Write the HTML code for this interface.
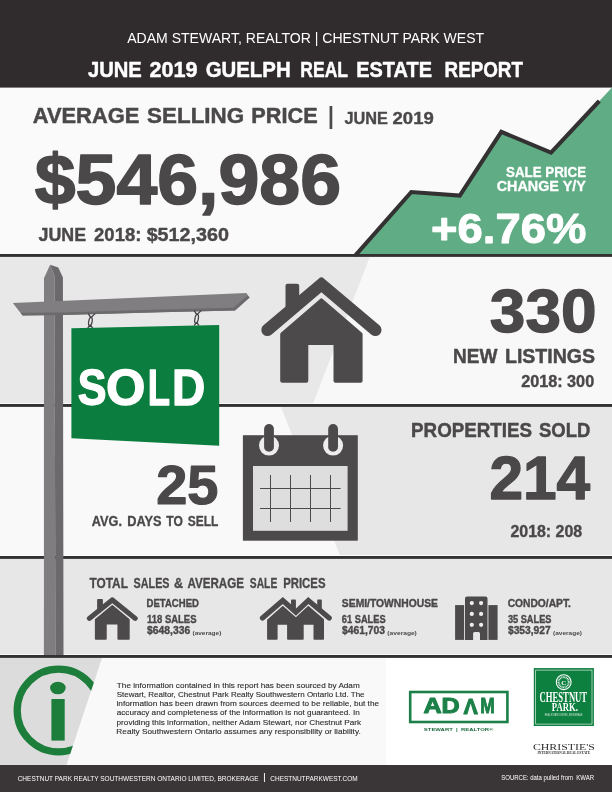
<!DOCTYPE html>
<html lang="en"><head><meta charset="utf-8"><title>June 2019 Guelph Real Estate Report</title>
<style>html,body{margin:0;padding:0;background:#fff}svg{display:block}text{white-space:pre}</style></head>
<body><svg width="612" height="792" viewBox="0 0 612 792">
<rect x="0" y="0" width="612" height="792" fill="#fafafa"/>
<rect x="0" y="0" width="612" height="87.6" fill="#302c2d"/>
<rect x="0" y="257" width="612" height="147" fill="#e8e8e8"/>
<polygon points="369.8,257 612,257 612,404 312.8,404" fill="#f8f8f8"/>
<rect x="0" y="407" width="612" height="149" fill="#f9f9f9"/>
<polygon points="281,407 612,407 612,556 340.2,556" fill="#e7e7e7"/>
<rect x="0" y="559" width="612" height="96" fill="#e7e7e7"/>
<rect x="0" y="658" width="612" height="107" fill="#f9f9f9"/>
<rect x="386" y="658" width="226" height="107" fill="#ffffff"/>
<polygon points="0,658 102,658 66.5,765 0,765" fill="#dcdcdc"/>
<rect x="0" y="765" width="612" height="27" fill="#3a3637"/>
<polygon points="356.5,255 411.3,192 459.8,195.6 501.3,131.8 551,152.6 599.3,101 612,87.5 612,255" fill="#60ad85"/>
<polyline points="355.2,255.6 411.3,192 459.8,195.6 501.3,131.8 551,152.6 599.3,101" fill="none" stroke="#343132" stroke-width="4.1" stroke-linejoin="miter"/>
<rect x="0" y="254.0" width="612" height="2.9" fill="#343132"/>
<rect x="0" y="403" width="612" height="1" fill="#ffffff" opacity="0.75"/>
<rect x="0" y="404.0" width="612" height="2.9" fill="#343132"/>
<rect x="0" y="555" width="612" height="1" fill="#ffffff" opacity="0.75"/>
<rect x="0" y="556.0" width="612" height="2.9" fill="#343132"/>
<rect x="0" y="654" width="612" height="1" fill="#ffffff" opacity="0.75"/>
<rect x="0" y="655.0" width="612" height="2.9" fill="#343132"/>
<text x="127.17" y="42.50" font-family="'Liberation Sans', sans-serif" font-size="14.90" font-weight="normal" fill="#ffffff" textLength="356.96" lengthAdjust="spacingAndGlyphs">ADAM STEWART, REALTOR | CHESTNUT PARK WEST</text>
<text y="76.66" font-family="'Liberation Sans', sans-serif" font-size="22.00" font-weight="bold" fill="#ffffff" stroke="#ffffff" stroke-width="0.48" stroke-linejoin="round"><tspan x="87.94" textLength="53.85" lengthAdjust="spacingAndGlyphs">JUNE</tspan> <tspan x="149.51" textLength="48.04" lengthAdjust="spacingAndGlyphs">2019</tspan> <tspan x="205.66" textLength="84.97" lengthAdjust="spacingAndGlyphs">GUELPH</tspan> <tspan x="300.34" textLength="47.44" lengthAdjust="spacingAndGlyphs">REAL</tspan> <tspan x="356.22" textLength="75.82" lengthAdjust="spacingAndGlyphs">ESTATE</tspan> <tspan x="444.60" textLength="78.35" lengthAdjust="spacingAndGlyphs">REPORT</tspan></text>
<text y="123.05" font-family="'Liberation Sans', sans-serif" font-size="22.50" font-weight="bold" fill="#4b484a" stroke="#4b484a" stroke-width="0.49" stroke-linejoin="round"><tspan x="32.72" textLength="106.64" lengthAdjust="spacingAndGlyphs">AVERAGE</tspan> <tspan x="147.12" textLength="97.01" lengthAdjust="spacingAndGlyphs">SELLING</tspan> <tspan x="251.32" textLength="66.29" lengthAdjust="spacingAndGlyphs">PRICE</tspan></text>
<text x="328.01" y="123.60" font-family="'Liberation Sans', sans-serif" font-size="24.30" font-weight="bold" fill="#4b484a" textLength="5.86" lengthAdjust="spacingAndGlyphs">|</text>
<text y="123.71" font-family="'Liberation Sans', sans-serif" font-size="16.90" font-weight="bold" fill="#4b484a" stroke="#4b484a" stroke-width="0.37" stroke-linejoin="round"><tspan x="344.44" textLength="43.50" lengthAdjust="spacingAndGlyphs">JUNE</tspan> <tspan x="392.56" textLength="41.19" lengthAdjust="spacingAndGlyphs">2019</tspan></text>
<text x="34.81" y="204.24" font-family="'Liberation Sans', sans-serif" font-size="69.50" font-weight="bold" fill="#4b484a" stroke="#4b484a" stroke-width="1.53" stroke-linejoin="round" textLength="306.19" lengthAdjust="spacingAndGlyphs">$546,986</text>
<text y="240.79" font-family="'Liberation Sans', sans-serif" font-size="19.20" font-weight="bold" fill="#4b484a" stroke="#4b484a" stroke-width="0.42" stroke-linejoin="round"><tspan x="38.54" textLength="47.53" lengthAdjust="spacingAndGlyphs">JUNE</tspan> <tspan x="94.08" textLength="47.27" lengthAdjust="spacingAndGlyphs">2018:</tspan> <tspan x="146.65" textLength="82.32" lengthAdjust="spacingAndGlyphs">$512,360</tspan></text>
<text x="506.09" y="176.84" font-family="'Liberation Sans', sans-serif" font-size="15.00" font-weight="bold" fill="#ffffff" stroke="#ffffff" stroke-width="0.33" stroke-linejoin="round" textLength="79.96" lengthAdjust="spacingAndGlyphs">SALE PRICE</text>
<text x="496.78" y="190.84" font-family="'Liberation Sans', sans-serif" font-size="15.00" font-weight="bold" fill="#ffffff" stroke="#ffffff" stroke-width="0.33" stroke-linejoin="round" textLength="88.99" lengthAdjust="spacingAndGlyphs">CHANGE Y/Y</text>
<text x="431.07" y="243.42" font-family="'Liberation Sans', sans-serif" font-size="43.30" font-weight="bold" fill="#ffffff" stroke="#ffffff" stroke-width="0.95" stroke-linejoin="round" textLength="155.25" lengthAdjust="spacingAndGlyphs">+6.76%</text>
<polygon points="44,278.3 50.1,264.8 54.6,276 55.4,655 43.9,655" fill="#7f7d7f"/>
<polygon points="50.1,264.8 58.3,267.4 62.9,277.6 63.5,655 55.4,655 54.6,276" fill="#6b696b"/>
<polygon points="12.8,303.1 246.3,293 249.6,297.4 235,310.4 160,312.2 63,315 22.6,315.5" fill="#807e80"/>
<polygon points="22.6,315.5 63,315 160,312.2 235,310.4 249.6,297.4 247.4,295.6 233.6,307.8 160,309.6 63,312.4 20.4,312.8" fill="#6c6a6c"/>
<g fill="none" stroke="#454345" stroke-width="1.3" stroke-linecap="round" stroke-linejoin="round"><polyline points="88.4,313.9 90.8,317.7 94.8,313.9"/><ellipse cx="90.4" cy="321.6" rx="1.7" ry="4.3" transform="rotate(10 90.4 321.6)"/><polyline points="88.0,327.6 90.2,325.0 92.4,327.6"/></g>
<g fill="none" stroke="#454345" stroke-width="1.3" stroke-linecap="round" stroke-linejoin="round"><polyline points="194.4,310.9 196.8,314.7 200.8,310.9"/><ellipse cx="196.6" cy="318.9" rx="1.7" ry="4.5" transform="rotate(10 196.6 318.9)"/><polyline points="194.4,325.1 196.6,322.5 198.8,325.1"/></g>
<polygon points="71.4,328.2 219.2,324.9 219.2,445.8 71.4,438.3" fill="#0b7d3e"/>
<text y="405.15" font-family="'Liberation Sans', sans-serif" font-size="50.20" font-weight="bold" fill="#ffffff" stroke="#ffffff" stroke-width="1.30" stroke-linejoin="round"><tspan x="77.74" textLength="28.79" lengthAdjust="spacingAndGlyphs">S</tspan><tspan x="105.97" textLength="39.40" lengthAdjust="spacingAndGlyphs">O</tspan><tspan x="147.64" textLength="22.30" lengthAdjust="spacingAndGlyphs">L</tspan><tspan x="171.91" textLength="33.23" lengthAdjust="spacingAndGlyphs">D</tspan></text>
<g fill="#4d4a4c" stroke="#4d4a4c" stroke-width="4.00" stroke-linejoin="round"><polygon points="287.50,312.00 287.50,285.80 297.20,285.80 297.20,303.00"/><polygon points="321.40,300.40 360.60,334.30 360.60,380.80 335.50,380.80 335.50,343.00 306.30,343.00 306.30,380.80 282.20,380.80 282.20,334.30"/></g><path fill="#4d4a4c" d="M263.46,325.34 L318.96,278.38 Q321.40,276.31 323.84,278.38 L379.34,325.34 A6.10,6.10 0 0 1 371.46,334.66 L321.40,292.29 L271.34,334.66 A6.10,6.10 0 0 1 263.46,325.34 Z"/>
<text x="489.86" y="331.94" font-family="'Liberation Sans', sans-serif" font-size="60.40" font-weight="bold" fill="#4b484a" stroke="#4b484a" stroke-width="1.33" stroke-linejoin="round" textLength="106.66" lengthAdjust="spacingAndGlyphs">330</text>
<text y="363.47" font-family="'Liberation Sans', sans-serif" font-size="20.80" font-weight="bold" fill="#4b484a" stroke="#4b484a" stroke-width="0.46" stroke-linejoin="round"><tspan x="452.97" textLength="44.42" lengthAdjust="spacingAndGlyphs">NEW</tspan> <tspan x="504.94" textLength="90.20" lengthAdjust="spacingAndGlyphs">LISTINGS</tspan></text>
<text x="521.13" y="387.32" font-family="'Liberation Sans', sans-serif" font-size="16.20" font-weight="bold" fill="#4b484a" stroke="#4b484a" stroke-width="0.36" stroke-linejoin="round" textLength="73.04" lengthAdjust="spacingAndGlyphs">2018: 300</text>
<text x="156.20" y="504.30" font-family="'Liberation Sans', sans-serif" font-size="54.80" font-weight="bold" fill="#4b484a" stroke="#4b484a" stroke-width="1.21" stroke-linejoin="round" textLength="62.22" lengthAdjust="spacingAndGlyphs">25</text>
<text y="525.55" font-family="'Liberation Sans', sans-serif" font-size="14.00" font-weight="bold" fill="#4b484a" stroke="#4b484a" stroke-width="0.31" stroke-linejoin="round"><tspan x="91.85" textLength="30.12" lengthAdjust="spacingAndGlyphs">AVG.</tspan> <tspan x="127.31" textLength="34.28" lengthAdjust="spacingAndGlyphs">DAYS</tspan> <tspan x="166.27" textLength="16.58" lengthAdjust="spacingAndGlyphs">TO</tspan> <tspan x="187.82" textLength="30.63" lengthAdjust="spacingAndGlyphs">SELL</tspan></text>
<rect x="242.9" y="435.2" width="114.9" height="105.5" fill="#4d4a4c"/>
<rect x="253" y="466" width="94.6" height="64.8" fill="#dedede"/>
<circle cx="269.0" cy="445.6" r="10" fill="#ededed"/>
<rect x="264.1" y="424" width="9.8" height="27.8" rx="4.9" fill="#4d4a4c"/>
<circle cx="333.1" cy="445.6" r="10" fill="#ededed"/>
<rect x="328.2" y="424" width="9.8" height="27.8" rx="4.9" fill="#4d4a4c"/>
<rect x="270.00" y="475" width="1" height="47" fill="#4d4a4c"/>
<rect x="290.00" y="475" width="1" height="47" fill="#4d4a4c"/>
<rect x="310.00" y="475" width="1" height="47" fill="#4d4a4c"/>
<rect x="330.00" y="475" width="1" height="47" fill="#4d4a4c"/>
<rect x="260" y="488.00" width="80.6" height="1" fill="#4d4a4c"/>
<rect x="260" y="508.00" width="80.6" height="1" fill="#4d4a4c"/>
<text y="436.97" font-family="'Liberation Sans', sans-serif" font-size="20.60" font-weight="bold" fill="#4b484a" stroke="#4b484a" stroke-width="0.45" stroke-linejoin="round"><tspan x="411.09" textLength="121.02" lengthAdjust="spacingAndGlyphs">PROPERTIES</tspan> <tspan x="538.91" textLength="51.42" lengthAdjust="spacingAndGlyphs">SOLD</tspan></text>
<text x="489.42" y="498.73" font-family="'Liberation Sans', sans-serif" font-size="60.80" font-weight="bold" fill="#4b484a" stroke="#4b484a" stroke-width="1.34" stroke-linejoin="round" textLength="100.75" lengthAdjust="spacingAndGlyphs">214</text>
<text x="510.44" y="537.02" font-family="'Liberation Sans', sans-serif" font-size="16.20" font-weight="bold" fill="#4b484a" stroke="#4b484a" stroke-width="0.36" stroke-linejoin="round" textLength="71.76" lengthAdjust="spacingAndGlyphs">2018: 208</text>
<text y="587.54" font-family="'Liberation Sans', sans-serif" font-size="14.20" font-weight="bold" fill="#4b484a" stroke="#4b484a" stroke-width="0.31" stroke-linejoin="round"><tspan x="89.53" textLength="38.17" lengthAdjust="spacingAndGlyphs">TOTAL</tspan> <tspan x="133.60" textLength="35.91" lengthAdjust="spacingAndGlyphs">SALES</tspan> <tspan x="174.11" textLength="9.12" lengthAdjust="spacingAndGlyphs">&amp;</tspan> <tspan x="187.38" textLength="56.67" lengthAdjust="spacingAndGlyphs">AVERAGE</tspan> <tspan x="249.87" textLength="27.38" lengthAdjust="spacingAndGlyphs">SALE</tspan> <tspan x="283.16" textLength="42.33" lengthAdjust="spacingAndGlyphs">PRICES</tspan></text>
<g fill="#4d4a4c" stroke="#4d4a4c" stroke-width="1.66" stroke-linejoin="round"><polygon points="97.96,611.18 97.96,599.76 102.06,599.76 102.06,607.53"/><polygon points="112.30,605.83 128.88,619.56 128.88,639.04 118.26,639.04 118.26,623.74 105.91,623.74 105.91,639.04 95.72,639.04 95.72,619.56"/></g><path fill="#4d4a4c" d="M87.79,616.58 L111.27,597.56 Q112.30,596.73 113.33,597.56 L136.81,616.58 A2.58,2.47 0 0 1 133.48,620.36 L112.30,603.20 L91.12,620.36 A2.58,2.47 0 0 1 87.79,616.58 Z"/>
<text x="146.55" y="606.82" font-family="'Liberation Sans', sans-serif" font-size="10.15" font-weight="bold" fill="#4b484a" stroke="#4b484a" stroke-width="0.37" stroke-linejoin="round" textLength="52.41" lengthAdjust="spacingAndGlyphs">DETACHED</text>
<text x="147.00" y="622.82" font-family="'Liberation Sans', sans-serif" font-size="10.15" font-weight="bold" fill="#4b484a" stroke="#4b484a" stroke-width="0.37" stroke-linejoin="round" textLength="49.44" lengthAdjust="spacingAndGlyphs">118 SALES</text>
<text x="147.05" y="633.62" font-family="'Liberation Sans', sans-serif" font-size="10.15" font-weight="bold" fill="#4b484a" stroke="#4b484a" stroke-width="0.37" stroke-linejoin="round" textLength="43.13" lengthAdjust="spacingAndGlyphs">$648,336</text>
<text x="192.48" y="634.70" font-family="'Liberation Sans', sans-serif" font-size="5.80" font-weight="bold" fill="#4b484a" textLength="28.83" lengthAdjust="spacingAndGlyphs">(average)</text>
<text x="341.89" y="607.02" font-family="'Liberation Sans', sans-serif" font-size="10.15" font-weight="bold" fill="#4b484a" stroke="#4b484a" stroke-width="0.37" stroke-linejoin="round" textLength="96.03" lengthAdjust="spacingAndGlyphs">SEMI/TOWNHOUSE</text>
<text x="341.85" y="623.02" font-family="'Liberation Sans', sans-serif" font-size="10.15" font-weight="bold" fill="#4b484a" stroke="#4b484a" stroke-width="0.37" stroke-linejoin="round" textLength="43.73" lengthAdjust="spacingAndGlyphs">61 SALES</text>
<text x="342.05" y="634.02" font-family="'Liberation Sans', sans-serif" font-size="10.15" font-weight="bold" fill="#4b484a" stroke="#4b484a" stroke-width="0.37" stroke-linejoin="round" textLength="42.93" lengthAdjust="spacingAndGlyphs">$461,703</text>
<text x="387.38" y="634.90" font-family="'Liberation Sans', sans-serif" font-size="5.80" font-weight="bold" fill="#4b484a" textLength="29.45" lengthAdjust="spacingAndGlyphs">(average)</text>
<text x="507.66" y="607.12" font-family="'Liberation Sans', sans-serif" font-size="10.15" font-weight="bold" fill="#4b484a" stroke="#4b484a" stroke-width="0.37" stroke-linejoin="round" textLength="63.26" lengthAdjust="spacingAndGlyphs">CONDO/APT.</text>
<text x="507.88" y="622.82" font-family="'Liberation Sans', sans-serif" font-size="10.15" font-weight="bold" fill="#4b484a" stroke="#4b484a" stroke-width="0.37" stroke-linejoin="round" textLength="43.60" lengthAdjust="spacingAndGlyphs">35 SALES</text>
<text x="507.95" y="633.82" font-family="'Liberation Sans', sans-serif" font-size="10.15" font-weight="bold" fill="#4b484a" stroke="#4b484a" stroke-width="0.37" stroke-linejoin="round" textLength="42.71" lengthAdjust="spacingAndGlyphs">$353,927</text>
<text x="553.08" y="634.80" font-family="'Liberation Sans', sans-serif" font-size="5.80" font-weight="bold" fill="#4b484a" textLength="28.83" lengthAdjust="spacingAndGlyphs">(average)</text>
<g fill="#4d4a4c" stroke="#4d4a4c" stroke-width="1.6" stroke-linejoin="round">
<rect x="291.8" y="600.4" width="3.3" height="10"/>
<rect x="318" y="600.4" width="3" height="10"/>
<polygon points="282.8,606.9 295.9,618.3 308.3,606.9 323.2,619.7 323.2,638.9 314.3,638.9 314.3,623.9 302.9,623.9 302.9,638.9 287.9,638.9 287.9,623.9 276.8,623.9 276.8,638.9 267.9,638.9 267.9,620.1"/>
</g>
<polyline points="262.5,618 282.8,600.5 295.9,612.2 308.3,600.5 329.2,618" fill="none" stroke="#4d4a4c" stroke-width="5.2" stroke-linecap="round" stroke-linejoin="miter"/>
<path d="M465,639.9 V598.4 Q465,596.4 467,596.4 H485.5 Q487.5,596.4 487.5,598.4 V639.9 H480 V633.5 Q480,632 478.5,632 H474.6 Q473.1,632 473.1,633.5 V639.9 Z" fill="#4d4a4c"/>
<rect x="455.1" y="605.1" width="9" height="34.8" fill="#4d4a4c"/>
<rect x="488.4" y="605.1" width="9.2" height="34.8" fill="#4d4a4c"/>
<circle cx="471.8" cy="603.1" r="2.1" fill="#efefef"/>
<circle cx="471.8" cy="613.9" r="2.1" fill="#efefef"/>
<circle cx="471.8" cy="624.8" r="2.1" fill="#efefef"/>
<circle cx="481.1" cy="603.1" r="2.1" fill="#efefef"/>
<circle cx="481.1" cy="613.9" r="2.1" fill="#efefef"/>
<circle cx="481.1" cy="624.8" r="2.1" fill="#efefef"/>
<clipPath id="ic"><polygon points="0,658 102,658 66.5,765 0,765"/></clipPath>
<circle cx="58.6" cy="710.5" r="41.4" fill="none" stroke="#1d7d3b" stroke-width="7.3" clip-path="url(#ic)"/>
<ellipse cx="57.9" cy="688" rx="7.8" ry="6.3" fill="#1d7d3b"/>
<rect x="51.4" y="699" width="13.3" height="41.6" fill="#1d7d3b"/>
<text x="116.88" y="687.94" font-family="'Liberation Sans', sans-serif" font-size="8.00" font-weight="normal" fill="#2e2e2e" stroke="#2e2e2e" stroke-width="0.12" stroke-linejoin="round" textLength="242.84" lengthAdjust="spacingAndGlyphs">The information contained in this report has been sourced by Adam</text>
<text x="116.70" y="697.09" font-family="'Liberation Sans', sans-serif" font-size="8.00" font-weight="normal" fill="#2e2e2e" stroke="#2e2e2e" stroke-width="0.12" stroke-linejoin="round" textLength="247.84" lengthAdjust="spacingAndGlyphs">Stewart, Realtor, Chestnut Park Realty Southwestern Ontario Ltd. The</text>
<text x="116.52" y="706.24" font-family="'Liberation Sans', sans-serif" font-size="8.00" font-weight="normal" fill="#2e2e2e" stroke="#2e2e2e" stroke-width="0.12" stroke-linejoin="round" textLength="262.54" lengthAdjust="spacingAndGlyphs">information has been drawn from sources deemed to be reliable, but the</text>
<text x="116.72" y="715.39" font-family="'Liberation Sans', sans-serif" font-size="8.00" font-weight="normal" fill="#2e2e2e" stroke="#2e2e2e" stroke-width="0.12" stroke-linejoin="round" textLength="243.00" lengthAdjust="spacingAndGlyphs">accuracy and completeness of the information is not guaranteed. In</text>
<text x="116.54" y="724.54" font-family="'Liberation Sans', sans-serif" font-size="8.00" font-weight="normal" fill="#2e2e2e" stroke="#2e2e2e" stroke-width="0.12" stroke-linejoin="round" textLength="244.64" lengthAdjust="spacingAndGlyphs">providing this information, neither Adam Stewart, nor Chestnut Park</text>
<text x="116.38" y="733.69" font-family="'Liberation Sans', sans-serif" font-size="8.00" font-weight="normal" fill="#2e2e2e" stroke="#2e2e2e" stroke-width="0.12" stroke-linejoin="round" textLength="244.31" lengthAdjust="spacingAndGlyphs">Realty Southwestern Ontario assumes any responsibility or liability.</text>
<rect x="410.2" y="692" width="97.2" height="30" fill="none" stroke="#1c8148" stroke-width="2.6"/>
<text x="423.40" y="713.40" font-family="'Liberation Sans', sans-serif" font-size="21.60" font-weight="bold" fill="#1c8148" stroke="#1c8148" stroke-width="1.00" stroke-linejoin="round" textLength="36.34" lengthAdjust="spacingAndGlyphs">AD</text>
<text x="463.67" y="713.40" font-family="'Liberation Sans', sans-serif" font-size="21.60" font-weight="bold" fill="#1c8148" stroke="#1c8148" stroke-width="1.00" stroke-linejoin="round" textLength="14.15" lengthAdjust="spacingAndGlyphs" transform="rotate(180 470.75 706.2)">V</text>
<text x="480.15" y="713.40" font-family="'Liberation Sans', sans-serif" font-size="21.60" font-weight="bold" fill="#1c8148" stroke="#1c8148" stroke-width="1.00" stroke-linejoin="round" textLength="14.50" lengthAdjust="spacingAndGlyphs">M</text>
<text x="423.83" y="731.10" font-family="'Liberation Sans', sans-serif" font-size="3.80" font-weight="bold" fill="#1f6a40" textLength="69.65" lengthAdjust="spacingAndGlyphs">STEWART  |  REALTOR®</text>
<rect x="533.8" y="668.1" width="60.1" height="57.9" fill="#0d7f3f"/>
<rect x="535.7" y="670.1" width="56.3" height="54" fill="none" stroke="#ffffff" stroke-width="0.6"/>
<circle cx="563.7" cy="682.2" r="7.4" fill="none" stroke="#ffffff" stroke-width="1.1"/>
<circle cx="563.7" cy="682.2" r="5.1" fill="none" stroke="#ffffff" stroke-width="2" stroke-dasharray="0.9 0.6" opacity="0.85"/>
<text x="561.26" y="684.60" font-family="'Liberation Serif', serif" font-size="6.80" font-weight="bold" fill="#ffffff" textLength="5.07" lengthAdjust="spacingAndGlyphs">C</text>
<text x="539.59" y="702.40" font-family="'Liberation Serif', serif" font-size="13.80" font-weight="bold" fill="#ffffff" textLength="47.54" lengthAdjust="spacingAndGlyphs">CHESTNUT</text>
<text x="551.75" y="710.80" font-family="'Liberation Serif', serif" font-size="11.80" font-weight="bold" fill="#ffffff" textLength="26.22" lengthAdjust="spacingAndGlyphs">PARK.</text>
<text x="544.73" y="715.60" font-family="'Liberation Sans', sans-serif" font-size="2.80" font-weight="normal" fill="#cfe6d8" textLength="37.76" lengthAdjust="spacingAndGlyphs">REAL ESTATE LIMITED, BROKERAGE</text>
<text x="532.91" y="749.60" font-family="'Liberation Serif', serif" font-size="9.10" font-weight="normal" fill="#2e2e2e" textLength="62.01" lengthAdjust="spacingAndGlyphs">CHRISTIE&#x27;S</text>
<text x="537.49" y="753.80" font-family="'Liberation Serif', serif" font-size="3.30" font-weight="bold" fill="#2a2a2a" textLength="52.69" lengthAdjust="spacingAndGlyphs">INTERNATIONAL REAL ESTATE</text>
<text x="17.68" y="780.60" font-family="'Liberation Sans', sans-serif" font-size="7.70" font-weight="normal" fill="#ffffff" textLength="241.00" lengthAdjust="spacingAndGlyphs">CHESTNUT PARK REALTY SOUTHWESTERN ONTARIO LIMITED, BROKERAGE</text>
<text x="263.12" y="780.30" font-family="'Liberation Sans', sans-serif" font-size="8.96" font-weight="normal" fill="#ffffff" textLength="2.85" lengthAdjust="spacingAndGlyphs">|</text>
<text x="270.28" y="780.60" font-family="'Liberation Sans', sans-serif" font-size="7.70" font-weight="normal" fill="#ffffff" textLength="87.46" lengthAdjust="spacingAndGlyphs">CHESTNUTPARKWEST.COM</text>
<text x="501.33" y="780.20" font-family="'Liberation Sans', sans-serif" font-size="6.30" font-weight="normal" fill="#ffffff" textLength="92.65" lengthAdjust="spacingAndGlyphs">SOURCE: data pulled from  KWAR</text>
</svg></body></html>
